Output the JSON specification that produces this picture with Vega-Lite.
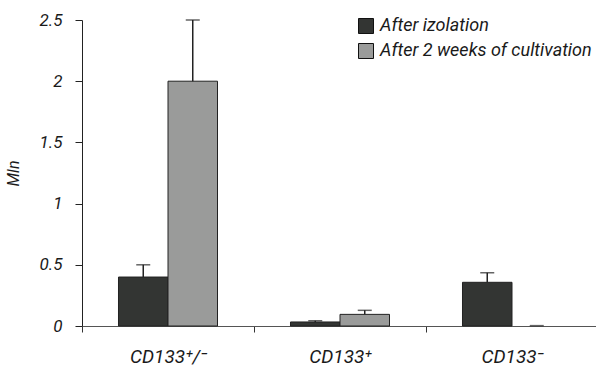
{
  "$schema": "https://vega.github.io/schema/vega-lite/v6.json",
  "autosize": "none",
  "width": 516,
  "height": 306,
  "padding": {"left": 82, "top": 20, "right": 0, "bottom": 46},
  "background": "white",
  "config": {
    "view": {"stroke": null},
    "font": "Roboto"
  },
  "data": {
    "values": [
      {"cat": "CD133⁺/⁻", "series": "After izolation", "value": 0.4, "err": 0.5},
      {"cat": "CD133⁺/⁻", "series": "After 2 weeks of cultivation", "value": 2.0, "err": 2.5},
      {"cat": "CD133⁺", "series": "After izolation", "value": 0.033, "err": 0.043},
      {"cat": "CD133⁺", "series": "After 2 weeks of cultivation", "value": 0.095, "err": 0.128},
      {"cat": "CD133⁻", "series": "After izolation", "value": 0.357, "err": 0.435},
      {"cat": "CD133⁻", "series": "After 2 weeks of cultivation", "value": null, "err": 0.003}
    ]
  },
  "encoding": {
    "x": {
      "field": "cat", "type": "nominal", "sort": null,
      "scale": {"paddingInner": 0, "paddingOuter": 0},
      "axis": {
        "title": null, "labelAngle": 0, "tickBand": "extent",
        "domainColor": "#555555", "tickColor": "#333333", "tickSize": 6,
        "labelFont": "Roboto", "labelFontStyle": "italic",
        "labelFontSize": 19, "labelColor": "#1a1a1a", "labelPadding": 15
      }
    },
    "xOffset": {
      "field": "series", "type": "nominal",
      "sort": ["After izolation", "After 2 weeks of cultivation"],
      "scale": {"paddingInner": 0, "paddingOuter": 0.737}
    }
  },
  "layer": [
    {
      "mark": {"type": "bar", "stroke": "#222222", "strokeWidth": 1},
      "encoding": {
        "y": {
          "field": "value", "type": "quantitative",
          "scale": {"domain": [0, 2.5], "nice": false},
          "axis": {
            "title": "Mln", "grid": false, "values": [0, 0.5, 1, 1.5, 2, 2.5],
            "format": "~g",
            "domainColor": "#222222", "tickColor": "#222222", "tickSize": 7,
            "labelFont": "Roboto", "labelFontStyle": "italic",
            "labelFontSize": 17, "labelColor": "#1a1a1a", "labelPadding": 13,
            "titleFont": "Roboto", "titleFontStyle": "italic",
            "titleFontWeight": "normal", "titleFontSize": 16, "titleColor": "#1a1a1a",
            "titlePadding": 18
          }
        },
        "color": {
          "field": "series", "type": "nominal",
          "sort": ["After izolation", "After 2 weeks of cultivation"],
          "scale": {"range": ["#333533", "#9a9b9a"]},
          "legend": {
            "title": null, "orient": "none", "legendX": 275, "legendY": -3,
            "padding": 0, "symbolType": "square", "symbolSize": 225,
            "symbolStrokeColor": "#111111", "symbolStrokeWidth": 1,
            "symbolOpacity": 1, "rowPadding": 5, "labelOffset": 5,
            "labelFont": "Roboto", "labelFontStyle": "italic",
            "labelFontSize": 18, "labelColor": "#1a1a1a", "labelLimit": 400
          }
        }
      }
    },
    {
      "mark": {"type": "rule", "color": "#222222", "strokeWidth": 1.5},
      "encoding": {
        "y": {"field": "value", "type": "quantitative"},
        "y2": {"field": "err"}
      }
    },
    {
      "mark": {"type": "tick", "color": "#222222", "thickness": 1.5, "size": 14},
      "encoding": {
        "y": {"field": "err", "type": "quantitative"}
      }
    }
  ]
}
